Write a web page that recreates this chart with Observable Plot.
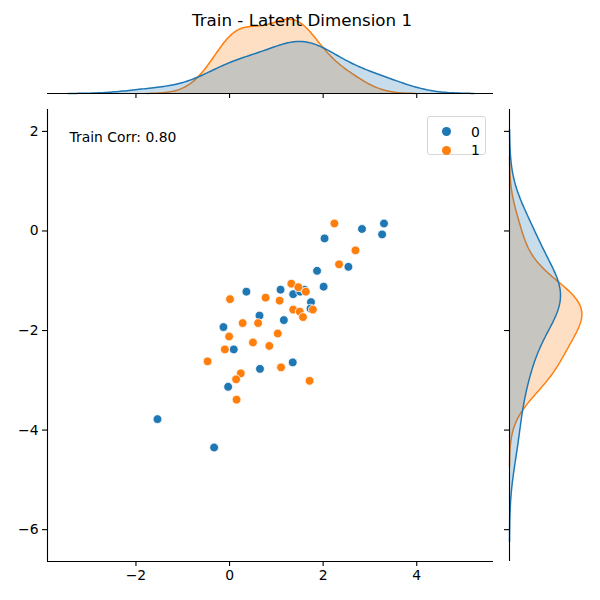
<!DOCTYPE html>
<html>
<head>
<meta charset="utf-8">
<script src="https://cdn.jsdelivr.net/npm/d3@7"></script>
<script src="https://cdn.jsdelivr.net/npm/@observablehq/plot@0.6"></script>
<style>
  html, body { margin: 0; padding: 0; background: #fff; }
  #chart { position: relative; width: 600px; height: 600px; font-family: "DejaVu Sans", sans-serif; overflow: hidden; }
  #chart > svg, #chart > .abs { position: absolute; }
  .title { left: 0; width: 604px; top: 10px; text-align: center; font-size: 16.7px; color: #000; }
  .legend { left: 427px; top: 116px; width: 59px; height: 39px; border: 1px solid #d6d6d6; border-radius: 3px; box-sizing: border-box; background: rgba(255,255,255,0.8); }
  .legend .sw { position: absolute; width: 9px; height: 9px; border-radius: 50%; }
  .legend .lab { position: absolute; font-size: 13.9px; line-height: 14px; color: #000; }
</style>
</head>
<body>
<div id="chart"></div>
<script>
// Latent dimension 1 (train split): embedding value vs. target, per class
const classes = ["0", "1"];
const colors = ["#1f77b4", "#ff7f0e"];

const x0 = [3.30, 3.26, 2.83, 2.03, 2.54, 1.87, 2.01, 0.36, 1.09, 1.36, 1.51, 1.60,
            1.74, 1.73, 0.64, 1.16, -0.13, 0.09, 1.35, 0.65, -0.03, -1.54, -0.33];
const y0 = [0.15, -0.07, 0.04, -0.15, -0.72, -0.80, -1.12, -1.22, -1.18, -1.27, -1.22, -1.18,
            -1.43, -1.56, -1.70, -1.79, -1.93, -2.38, -2.64, -2.77, -3.13, -3.78, -4.35];

const x1 = [2.24, 2.69, 2.34, 1.32, 1.47, 1.63, 0.01, 0.77, 1.07, 1.36, 1.50, 1.78, 1.57,
            0.28, 0.61, -0.01, 1.03, 0.50, 0.85, -0.10, -0.47, 1.10, 0.24, 0.14, 1.71, 0.15];
const y1 = [0.15, -0.39, -0.67, -1.06, -1.13, -1.22, -1.37, -1.34, -1.40, -1.58, -1.62, -1.58, -1.73,
            -1.85, -1.85, -2.12, -2.06, -2.24, -2.31, -2.38, -2.62, -2.74, -2.86, -2.98, -3.01, -3.39];

const xTicks = [-2, 0, 2, 4];
const yTicks = [-6, -4, -2, 0, 2];
const xDomain = [-3.89, 5.64];
const yDomain = [-6.64, 2.44];
const corrLabel = "Train Corr: 0.80";
const titleText = "Train - Latent Dimension 1";

const points = [
  ...x0.map((x, i) => ({x, y: y0[i], c: classes[0]})),
  ...x1.map((x, i) => ({x, y: y1[i], c: classes[1]}))
];
const N = points.length;

// Gaussian KDE (Scott's rule), grid extended by 3 bandwidths, scaled by class share
function kde(values, c) {
  const n = values.length;
  const sd = d3.deviation(values);
  const bw = sd * Math.pow(n, -0.2);
  const lo = d3.min(values) - 3 * bw, hi = d3.max(values) + 3 * bw;
  const k = 1 / (Math.sqrt(2 * Math.PI) * bw * N);
  return d3.range(200).map(i => {
    const t = lo + (hi - lo) * i / 199;
    const d = k * d3.sum(values, v => Math.exp(-0.5 * ((t - v) / bw) ** 2));
    return {t, d, c};
  });
}

// class "1" is layered first, class "0" on top
const kx = [kde(x1, classes[1]), kde(x0, classes[0])];
const ky = [kde(y1, classes[1]), kde(y0, classes[0])];
const maxX = d3.max(kx.flat(), d => d.d);
const maxY = d3.max(ky.flat(), d => d.d);

const font = "DejaVu Sans, sans-serif";
const colorScale = {domain: classes, range: colors};

// Joint scatter
const mainPlot = Plot.plot({
  width: 500, height: 500,
  marginLeft: 47, marginRight: 7, marginTop: 9, marginBottom: 39,
  style: {fontFamily: font, fontSize: "13.9px", color: "#000", background: "transparent"},
  x: {domain: xDomain},
  y: {domain: yDomain},
  color: colorScale,
  marks: [
    Plot.axisX({ticks: xTicks, tickSize: 5, tickPadding: 4, label: null, fontSize: 13.9, strokeWidth: 1.1}),
    Plot.axisY({ticks: yTicks, tickSize: 5, tickPadding: 4, label: null, fontSize: 13.9, strokeWidth: 1.1}),
    Plot.ruleY([yDomain[0]], {stroke: "#000", strokeWidth: 1.1}),
    Plot.ruleX([xDomain[0]], {stroke: "#000", strokeWidth: 1.1}),
    Plot.dot(points, {x: "x", y: "y", fill: "c", r: 4.4, stroke: "#fff", strokeWidth: 0.8}),
    Plot.text([corrLabel], {frameAnchor: "top-left", dx: 22, dy: 23, lineAnchor: "top", textAnchor: "start", fontSize: 13.9, fill: "#000"})
  ]
});
mainPlot.style.left = "0px"; mainPlot.style.top = "100px";

// Marginal density along x
const topPlot = Plot.plot({
  width: 500, height: 100,
  marginLeft: 47, marginRight: 7, marginTop: 15, marginBottom: 7,
  style: {fontFamily: font, background: "transparent"},
  x: {domain: xDomain},
  y: {domain: [0, maxX * 1.05], axis: null},
  color: colorScale,
  marks: [
    ...kx.flatMap(s => [
      Plot.areaY(s, {x: "t", y: "d", fill: "c", fillOpacity: 0.25}),
      Plot.lineY(s, {x: "t", y: "d", stroke: "c", strokeWidth: 1.5})
    ]),
    Plot.ruleY([0], {stroke: "#000", strokeWidth: 1.1}),
    Plot.axisX({ticks: xTicks, tickSize: 5, tickFormat: () => "", label: null, strokeWidth: 1.1})
  ]
});
topPlot.style.left = "0px"; topPlot.style.top = "0px";

// Marginal density along y
const rightPlot = Plot.plot({
  width: 100, height: 500,
  marginLeft: 9, marginRight: 15, marginTop: 9, marginBottom: 39,
  style: {fontFamily: font, background: "transparent"},
  x: {domain: [0, maxY * 1.05], axis: null},
  y: {domain: yDomain},
  color: colorScale,
  marks: [
    ...ky.flatMap(s => [
      Plot.areaX(s, {y: "t", x: "d", fill: "c", fillOpacity: 0.25}),
      Plot.lineX(s, {y: "t", x: "d", stroke: "c", strokeWidth: 1.5})
    ]),
    Plot.ruleX([0], {stroke: "#000", strokeWidth: 1.1}),
    Plot.axisY({ticks: yTicks, tickSize: 5, tickFormat: () => "", label: null, strokeWidth: 1.1})
  ]
});
rightPlot.style.left = "500px"; rightPlot.style.top = "100px";

const chart = document.getElementById("chart");
chart.append(topPlot, mainPlot, rightPlot);

const title = document.createElement("div");
title.className = "abs title";
title.textContent = titleText;
chart.append(title);

const legend = document.createElement("div");
legend.className = "abs legend";
classes.forEach((c, i) => {
  const sw = document.createElement("span");
  sw.className = "sw";
  sw.style.background = colors[i];
  sw.style.left = "14px";
  sw.style.top = (10 + i * 18.6) + "px";
  const lab = document.createElement("span");
  lab.className = "lab";
  lab.textContent = c;
  lab.style.left = "43px";
  lab.style.top = (7.5 + i * 18.6) + "px";
  legend.append(sw, lab);
});
chart.append(legend);
</script>
</body>
</html>
